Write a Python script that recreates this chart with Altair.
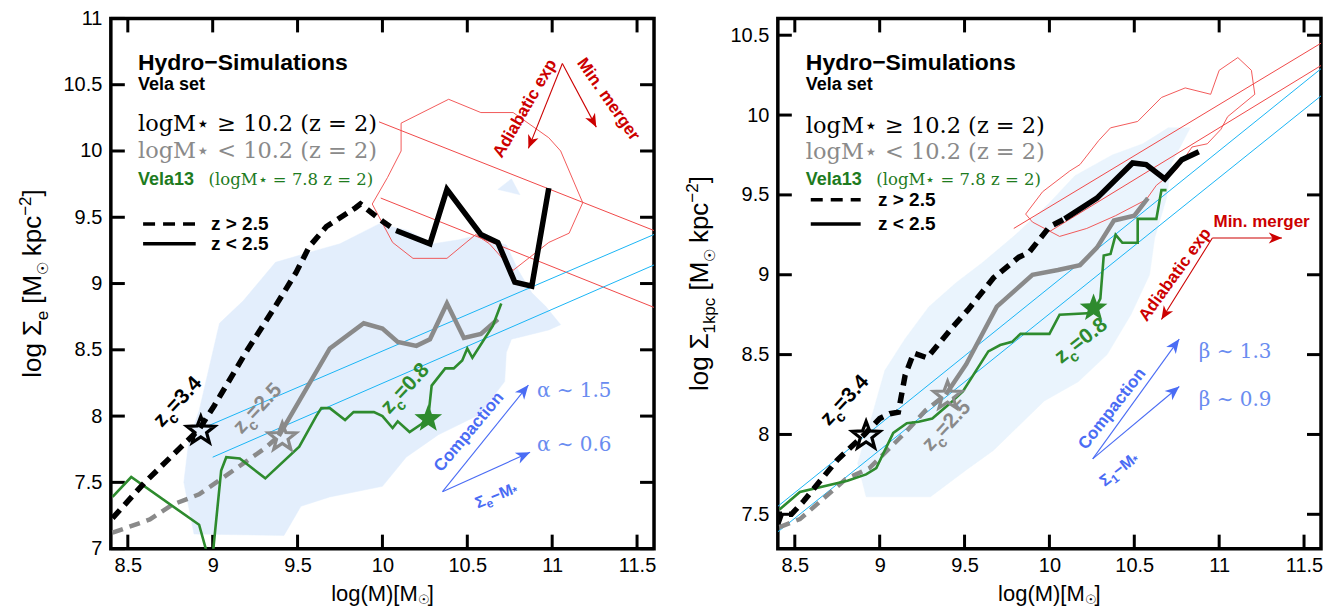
import math
import altair as alt
import pandas as pd

# ------------------------------------------------------------------ data
X_TICKS = [8.5, 9, 9.5, 10, 10.5, 11, 11.5]
Y_TICKS_L = [7, 7.5, 8, 8.5, 9, 9.5, 10, 10.5, 11]
Y_TICKS_R = [7.5, 8, 8.5, 9, 9.5, 10, 10.5]

# ---- left panel: Sigma_e
L_BLACK_DASH_X = [8.41, 8.60, 8.92, 9.01, 9.20, 9.37, 9.49, 9.57, 9.67, 9.84, 9.87, 10.00, 10.08]
L_BLACK_DASH_Y = [7.23, 7.50, 7.90, 8.08, 8.49, 8.83, 9.08, 9.28, 9.43, 9.57, 9.60, 9.47, 9.40]
L_BLACK_SOLID_X = [10.08, 10.28, 10.38, 10.58, 10.68, 10.78, 10.88, 10.98]
L_BLACK_SOLID_Y = [9.40, 9.30, 9.71, 9.37, 9.31, 9.01, 8.98, 9.72]
L_GRAY_DASH_X = [8.41, 8.63, 8.76, 8.92, 9.20, 9.31, 9.39]
L_GRAY_DASH_Y = [7.12, 7.22, 7.33, 7.41, 7.66, 7.76, 7.85]
L_GRAY_SOLID_X = [9.39, 9.69, 9.89, 10.00, 10.09, 10.20, 10.28, 10.38, 10.48, 10.58, 10.68]
L_GRAY_SOLID_Y = [7.85, 8.51, 8.70, 8.66, 8.56, 8.53, 8.58, 8.85, 8.59, 8.62, 8.73]
L_GREEN_X = [8.41, 8.52, 8.92, 8.97, 9.00, 9.05, 9.08, 9.16, 9.31, 9.51, 9.61, 9.64, 9.69, 9.78, 9.83,
             9.95, 10.00, 10.06, 10.09, 10.16, 10.23, 10.27, 10.29, 10.37, 10.42, 10.47, 10.50, 10.53,
             10.65, 10.70]
L_GREEN_Y = [7.39, 7.54, 7.18, 6.95, 6.95, 7.59, 7.69, 7.68, 7.53, 7.77, 8.00, 8.06, 8.06, 7.97, 8.03,
             8.03, 8.00, 7.91, 7.96, 7.88, 7.94, 7.99, 8.23, 8.36, 8.36, 8.42, 8.51, 8.44, 8.68, 8.85]
L_CYAN_X0 = [8.98, 9.00]
L_CYAN_Y0 = [7.93, 7.69]
L_CYAN_X1 = [11.60, 11.60]
L_CYAN_Y1 = [9.37, 9.14]
L_REDLINE_X0 = [9.98, 9.99]
L_REDLINE_Y0 = [10.22, 9.645]
L_REDLINE_X1 = [11.60, 11.60]
L_REDLINE_Y1 = [9.40, 8.82]
L_CONTOUR_X = [10.39, 10.58, 10.77, 10.98, 11.05, 11.18, 11.10, 10.98, 10.77, 10.63, 10.55, 10.38, 10.18,
               10.06, 9.94, 10.03, 10.11, 10.11]
L_CONTOUR_Y = [10.39, 10.29, 10.29, 10.10, 10.00, 9.61, 9.38, 9.31, 9.10, 9.30, 9.37, 9.19, 9.19,
               9.31, 9.60, 9.80, 10.00, 10.21]
L_SHADE_X = [8.89, 8.83, 8.86, 8.92, 9.04, 9.18, 9.37, 9.61, 9.75, 9.98, 10.15, 10.30, 10.45, 10.55,
             10.73, 10.80, 10.88, 10.96, 11.05, 10.98, 10.76, 10.73, 10.72, 10.57, 10.33, 10.14, 10.00,
             9.69, 9.52, 9.42]
L_SHADE_Y = [7.11, 7.50, 7.82, 8.04, 8.70, 8.87, 9.16, 9.25, 9.30, 9.45, 9.40, 9.30, 9.33, 9.36,
             9.29, 9.10, 8.93, 8.83, 8.69, 8.65, 8.58, 8.48, 8.26, 8.01, 7.86, 7.69, 7.47,
             7.39, 7.32, 7.10]
L_BLOB_X = [10.68, 10.76, 10.81]
L_BLOB_Y = [9.71, 9.79, 9.67]
L_STAR_X = [8.93, 9.41, 10.27]
L_STAR_Y = [7.90, 7.85, 7.99]

# ---- right panel: Sigma_1kpc
R_BLACK_DASH_X = [8.40, 8.42, 8.48, 8.55, 8.75, 8.91, 9.00, 9.06, 9.11, 9.15, 9.20, 9.28, 9.42, 9.52,
                  9.67, 9.82, 9.88, 10.00, 10.09]
R_BLACK_DASH_Y = [7.44, 7.50, 7.50, 7.58, 7.84, 8.00, 8.10, 8.13, 8.14, 8.37, 8.51, 8.48, 8.66, 8.78,
                  8.98, 9.11, 9.14, 9.30, 9.35]
R_BLACK_SOLID_X = [10.09, 10.28, 10.49, 10.57, 10.68, 10.78, 10.88]
R_BLACK_SOLID_Y = [9.35, 9.48, 9.70, 9.69, 9.60, 9.72, 9.77]
R_GRAY_DASH_X = [8.41, 8.53, 8.80, 8.94, 9.14, 9.27, 9.39]
R_GRAY_DASH_Y = [7.42, 7.47, 7.72, 7.79, 8.00, 8.15, 8.25]
R_GRAY_SOLID_X = [9.39, 9.51, 9.69, 9.90, 10.05, 10.18, 10.28, 10.38, 10.50, 10.58]
R_GRAY_SOLID_Y = [8.25, 8.44, 8.80, 9.00, 9.03, 9.06, 9.17, 9.34, 9.37, 9.48]
R_GREEN_X = [8.41, 8.53, 8.81, 8.92, 8.98, 9.08, 9.16, 9.23, 9.31, 9.41, 9.49, 9.64, 9.71, 9.78, 9.83,
             10.00, 10.06, 10.25, 10.27, 10.30, 10.32, 10.36, 10.39, 10.43, 10.52, 10.52, 10.63, 10.66,
             10.69]
R_GREEN_Y = [7.53, 7.64, 7.71, 7.75, 7.79, 8.01, 8.07, 8.08, 8.10, 8.19, 8.27, 8.52, 8.56, 8.58, 8.63,
             8.63, 8.75, 8.76, 8.79, 8.85, 9.12, 9.13, 9.25, 9.20, 9.20, 9.35, 9.35, 9.53, 9.53]
R_CYAN_X0 = [8.40, 8.40]
R_CYAN_Y0 = [7.55, 7.39]
R_CYAN_X1 = [11.60, 11.60]
R_CYAN_Y1 = [10.29, 10.12]
R_REDLINE_X0 = [9.79, 10.00]
R_REDLINE_Y0 = [9.29, 9.27]
R_REDLINE_X1 = [11.60, 11.60]
R_REDLINE_Y1 = [10.45, 10.31]
R_CONTOUR_X = [9.86, 9.96, 10.12, 10.18, 10.29, 10.36, 10.52, 10.66, 10.80, 10.95, 11.00, 11.11, 11.19,
               11.21, 11.05, 11.01, 10.93, 10.84, 10.75, 10.63, 10.57, 10.39, 10.22, 10.06, 9.90]
R_CONTOUR_Y = [9.38, 9.52, 9.65, 9.69, 9.84, 9.92, 9.96, 10.11, 10.17, 10.13, 10.28, 10.36, 10.28,
               10.13, 9.99, 9.91, 9.82, 9.80, 9.66, 9.56, 9.47, 9.37, 9.29, 9.24, 9.33]
R_SHADE_X = [8.92, 9.30, 9.50, 9.67, 9.97, 10.17, 10.34, 10.48, 10.59, 10.62, 10.69, 10.72, 10.83, 10.70,
             10.55, 10.37, 10.15, 10.00, 9.80, 9.61, 9.45, 9.29, 9.15, 9.03, 8.95, 8.87]
R_SHADE_Y = [7.61, 7.61, 7.77, 7.90, 8.21, 8.33, 8.50, 8.75, 9.00, 9.23, 9.48, 9.70, 9.92, 9.92,
             9.82, 9.75, 9.62, 9.45, 9.25, 9.08, 8.95, 8.80, 8.60, 8.40, 8.10, 7.82]
R_STAR_X = [8.92, 9.40, 10.26]
R_STAR_Y = [8.00, 8.25, 8.80]

# ------------------------------------------------------------------ style
SANS = "Liberation Sans"
SERIF = "DejaVu Serif"
W, H = 544, 531
XDOM = [8.4, 11.6]
YDOM_L = [7.0, 11.0]
YDOM_R = [7.285, 10.605]
YT = {tuple(YDOM_L): Y_TICKS_L, tuple(YDOM_R): Y_TICKS_R}
BLACK, GRAY, GREEN, GREEN_T = "#000000", "#8a8a8a", "#2e8b2e", "#1e7b1e"
CYAN, RED_L, RED = "#19b5f5", "#f04848", "#cc0000"
BLUE, BLUE_T = "#4a6cf4", "#6a8cf0"
SHADE_L, SHADE_R = "#e3eefc", "#eaf4fd"
DASH = [11, 7]

REG = {' ': 278, '(': 333, ')': 333, '[': 278, ']': 278, '.': 278, '=': 584, '−': 584, '-': 333,
       'l': 222, 'o': 556, 'g': 556, 'M': 833, 'k': 500, 'p': 556, 'c': 500, 'e': 556, 'z': 500,
       'Σ': 600, '☉': 760, '*': 389}
BOLD = {' ': 278, '.': 278, '=': 584, '−': 584, 'z': 500, 'c': 556, 'e': 556, 'M': 833, '*': 389,
        'Σ': 620}


def tw(s, size, bold):
    t = BOLD if bold else REG
    return sum(t.get(ch, 556) for ch in s) / 1000.0 * size


def xe():
    ax = alt.Axis(values=X_TICKS, format="~g", labelFont=SANS, labelFontSize=20, labelColor=BLACK,
                  ticks=False, tickSize=0, domain=False, grid=False, labelPadding=7, title=None,
                  labelFlush=False)
    return alt.X("x:Q", scale=alt.Scale(domain=XDOM, nice=False, zero=False), axis=ax)


def ye(ydom):
    ax = alt.Axis(values=YT[tuple(ydom)], format="~g", labelFont=SANS, labelFontSize=20,
                  labelColor=BLACK, ticks=False, tickSize=0, domain=False, grid=False,
                  labelPadding=9, title=None)
    return alt.Y("y:Q", scale=alt.Scale(domain=ydom, nice=False, zero=False), axis=ax)


def line(xs, ys, ydom, color, width, dash=None):
    df = pd.DataFrame({"x": xs, "y": ys, "i": list(range(len(xs)))})
    kw = dict(color=color, strokeWidth=width, clip=True, strokeCap="butt", strokeJoin="miter")
    if dash:
        kw["strokeDash"] = dash
    return alt.Chart(df).mark_line(**kw).encode(x=xe(), y=ye(ydom), order="i:Q")


def segs(x0, y0, x1, y1, ydom, color, width):
    rows = []
    for k in range(len(x0)):
        rows.append({"x": x0[k], "y": y0[k], "g": k, "i": 0})
        rows.append({"x": x1[k], "y": y1[k], "g": k, "i": 1})
    return alt.Chart(pd.DataFrame(rows)).mark_line(color=color, strokeWidth=width, clip=True).encode(
        x=xe(), y=ye(ydom), detail="g:N", order="i:Q")


def poly(xs, ys, ydom, stroke, width, fill=None):
    xs2, ys2 = list(xs) + [xs[0]], list(ys) + [ys[0]]
    df = pd.DataFrame({"x": xs2, "y": ys2, "i": list(range(len(xs2)))})
    kw = dict(stroke=stroke, strokeWidth=width, clip=True)
    if fill:
        kw["fill"] = fill
    return alt.Chart(df).mark_line(**kw).encode(x=xe(), y=ye(ydom), order="i:Q")


def rich(px, py, pieces, ydom, color, angle=0, bold=False, center=True, font=SANS,
         baseline="alphabetic", pixel=False):
    total = sum(tw(s, sz, bold) for s, sz, _ in pieces)
    cur = -total / 2.0 if center else 0.0
    df = pd.DataFrame({"x": [px], "y": [py]})
    if pixel:
        enc = dict(x=alt.value(px), y=alt.value(py))
    else:
        enc = dict(x=xe(), y=ye(ydom))
    out = []
    for s, sz, dy in pieces:
        lead = len(s) - len(s.lstrip(' '))
        txt = s.strip(' ')
        out.append(alt.Chart(df).mark_text(
            text=txt, font=font, fontSize=sz, fontWeight="bold" if bold else "normal", color=color,
            align="left", baseline=baseline, angle=angle, dx=cur + tw(' ' * lead, sz, bold), dy=dy
        ).encode(**enc))
        cur += tw(s, sz, bold)
    return out


def label(x, y, s, ydom, color, size, bold=False, font=SANS, angle=0, align="left",
          baseline="alphabetic"):
    df = pd.DataFrame({"x": [x], "y": [y]})
    return alt.Chart(df).mark_text(text=s, font=font, fontSize=size,
                                   fontWeight="bold" if bold else "normal", color=color,
                                   align=align, baseline=baseline, angle=angle).encode(
        x=xe(), y=ye(ydom))


HEAD = "M0,0L0.42,1L0,0.72L-0.42,1Z"
STAR = "M" + "L".join(
    "%.3f,%.3f" % ((1.0 if k % 2 == 0 else 0.42) * math.cos(math.radians(-90 + 36 * k)),
                   (1.0 if k % 2 == 0 else 0.42) * math.sin(math.radians(-90 + 36 * k)) + 0.1)
    for k in range(10)) + "Z"


def arrows(ax, ay, tx, ty, ydom, color, width, size):
    sx = W / (XDOM[1] - XDOM[0])
    sy = H / (ydom[1] - ydom[0])
    rows, heads = [], []
    for k in range(len(tx)):
        rows.append({"x": ax, "y": ay, "g": k, "i": 0})
        rows.append({"x": tx[k], "y": ty[k], "g": k, "i": 1})
        ang = math.degrees(math.atan2((tx[k] - ax) * sx, (ty[k] - ay) * sy)) % 360
        heads.append({"x": tx[k], "y": ty[k], "a": ang})
    shaft = alt.Chart(pd.DataFrame(rows)).mark_line(color=color, strokeWidth=width).encode(
        x=xe(), y=ye(ydom), detail="g:N", order="i:Q")
    head = alt.Chart(pd.DataFrame(heads)).mark_point(
        shape=HEAD, filled=True, size=size, color=color, opacity=1, strokeWidth=0).encode(
        x=xe(), y=ye(ydom), angle=alt.Angle("a:Q", scale=None))
    return [shaft, head]


def stars(xs, ys, ydom):
    out = []
    cols = [BLACK, GRAY, GREEN]
    for k in range(3):
        df = pd.DataFrame({"x": [xs[k]], "y": [ys[k]]})
        if k < 2:
            m = alt.Chart(df).mark_point(shape=STAR, size=850, filled=False, color=cols[k],
                                         strokeWidth=3.2, opacity=1)
        else:
            m = alt.Chart(df).mark_point(shape=STAR, size=850, filled=True, color=cols[k], opacity=1)
        out.append(m.encode(x=xe(), y=ye(ydom)))
    return out


def ticks(yt, ydom):
    dx = pd.DataFrame({"x": X_TICKS})
    dy = pd.DataFrame({"y": yt})
    r = dict(color=BLACK, strokeWidth=3)
    return [
        alt.Chart(dx).mark_rule(**r).encode(x=xe(), y=alt.value(H), y2=alt.value(H - 14)),
        alt.Chart(dx).mark_rule(**r).encode(x=xe(), y=alt.value(0), y2=alt.value(14)),
        alt.Chart(dy).mark_rule(**r).encode(y=ye(ydom), x=alt.value(0), x2=alt.value(14)),
        alt.Chart(dy).mark_rule(**r).encode(y=ye(ydom), x=alt.value(W), x2=alt.value(W - 14)),
    ]


def zc(x, y, num, ydom, color, angle):
    return rich(x, y, [("z", 21, 0), ("c", 15, 7), ("=" + num, 21, 0)], ydom, color,
                angle=angle, bold=True, center=False)


def ytitle(sub, ydom):
    return rich(-70, H / 2, [("log Σ", 26, 0), (sub, 17, 7), (" [M", 26, 0), ("☉", 15, 7),
                             (" kpc", 26, 0), ("−2", 17, -10), ("]", 26, 0)], ydom, BLACK,
                angle=270, pixel=True)


def xtitle(ydom):
    return rich(W / 2, H + 52, [("log(M)[M", 22, 0), ("☉", 13, 3), ("]", 22, 0)], ydom, BLACK,
                pixel=True)


# ------------------------------------------------------------------ left panel
yl = YDOM_L
L = []
L += ticks(Y_TICKS_L, yl)
L.append(poly(L_SHADE_X, L_SHADE_Y, yl, SHADE_L, 0.5, fill=SHADE_L))
L.append(poly(L_BLOB_X, L_BLOB_Y, yl, SHADE_L, 0.5, fill=SHADE_L))
L.append(poly(L_CONTOUR_X, L_CONTOUR_Y, yl, RED_L, 0.9))
L.append(segs(L_REDLINE_X0, L_REDLINE_Y0, L_REDLINE_X1, L_REDLINE_Y1, yl, RED_L, 1))
L.append(segs(L_CYAN_X0, L_CYAN_Y0, L_CYAN_X1, L_CYAN_Y1, yl, CYAN, 1))
L.append(line(L_GRAY_DASH_X, L_GRAY_DASH_Y, yl, GRAY, 4.5, DASH))
L.append(line(L_GRAY_SOLID_X, L_GRAY_SOLID_Y, yl, GRAY, 4.5))
L.append(line(L_GREEN_X, L_GREEN_Y, yl, GREEN, 2.6))
L.append(line(L_BLACK_DASH_X, L_BLACK_DASH_Y, yl, BLACK, 5.5, DASH))
L.append(line(L_BLACK_SOLID_X, L_BLACK_SOLID_Y, yl, BLACK, 5.5))
L += stars(L_STAR_X, L_STAR_Y, yl)
L.append(label(8.56, 10.61, "Hydro−Simulations", yl, BLACK, 23, bold=True))
L.append(label(8.56, 10.46, "Vela set", yl, BLACK, 18, bold=True))
L.append(label(8.56, 10.15, "logM⋆ ≥ 10.2 (z = 2)", yl, BLACK, 22.5, font=SERIF))
L.append(label(8.56, 9.95, "logM⋆ < 10.2 (z = 2)", yl, GRAY, 22.5, font=SERIF))
L.append(label(8.56, 9.746, "Vela13", yl, GREEN_T, 18, bold=True))
L.append(label(8.976, 9.746, "(logM⋆ = 7.8  z = 2)", yl, GREEN_T, 16.5, font=SERIF))
L.append(line([8.59, 8.90], [9.45, 9.45], yl, BLACK, 3.5, [12, 8]))
L.append(line([8.59, 8.90], [9.30, 9.30], yl, BLACK, 3.5))
L.append(label(8.99, 9.45, "z > 2.5", yl, BLACK, 19, bold=True, baseline="middle"))
L.append(label(8.99, 9.30, "z < 2.5", yl, BLACK, 19, bold=True, baseline="middle"))
L += zc(8.70, 7.91, "3.4", yl, BLACK, 313)
L += zc(9.17, 7.86, "2.5", yl, GRAY, 313)
L += zc(10.04, 8.01, "0.8", yl, GREEN, 313)
L += arrows(11.06, 10.66, [10.86, 11.26], [10.02, 10.18], yl, RED, 1.1, 700)
L.append(label(10.84, 10.32, "Adiabatic exp", yl, RED, 17, bold=True, angle=300, align="center",
               baseline="middle"))
L.append(label(11.33, 10.39, "Min. merger", yl, RED, 17, bold=True, angle=55, align="center",
               baseline="middle"))
L += arrows(10.354, 7.43, [10.86, 10.87], [8.234, 7.727], yl, BLUE, 1.1, 800)
L.append(label(10.51, 7.88, "Compaction", yl, BLUE, 17, bold=True, angle=310, align="center",
               baseline="middle"))
L += rich(10.67, 7.40, [("Σ", 16, 0), ("e", 12, 5), ("−M", 16, 0), ("*", 12, 3)], yl, BLUE,
          angle=338, bold=True, baseline="middle")
L.append(label(10.91, 8.19, "α ∼ 1.5", yl, BLUE_T, 20, font=SERIF, baseline="middle"))
L.append(label(10.91, 7.78, "α ∼ 0.6", yl, BLUE_T, 20, font=SERIF, baseline="middle"))
L += ytitle("e", yl)
L += xtitle(yl)
left = alt.layer(*L).properties(width=W, height=H)

# ------------------------------------------------------------------ right panel
yr = YDOM_R
R = []
R += ticks(Y_TICKS_R, yr)
R.append(poly(R_SHADE_X, R_SHADE_Y, yr, SHADE_R, 0.5, fill=SHADE_R))
R.append(poly(R_CONTOUR_X, R_CONTOUR_Y, yr, RED_L, 0.9))
R.append(segs(R_REDLINE_X0, R_REDLINE_Y0, R_REDLINE_X1, R_REDLINE_Y1, yr, RED_L, 1))
R.append(segs(R_CYAN_X0, R_CYAN_Y0, R_CYAN_X1, R_CYAN_Y1, yr, CYAN, 1))
R.append(line(R_GRAY_DASH_X, R_GRAY_DASH_Y, yr, GRAY, 4.5, DASH))
R.append(line(R_GRAY_SOLID_X, R_GRAY_SOLID_Y, yr, GRAY, 4.5))
R.append(line(R_GREEN_X, R_GREEN_Y, yr, GREEN, 2.6))
R.append(line(R_BLACK_DASH_X, R_BLACK_DASH_Y, yr, BLACK, 5.5, DASH))
R.append(line(R_BLACK_SOLID_X, R_BLACK_SOLID_Y, yr, BLACK, 5.5))
R += stars(R_STAR_X, R_STAR_Y, yr)
R.append(label(8.565, 10.285, "Hydro−Simulations", yr, BLACK, 23, bold=True))
R.append(label(8.565, 10.156, "Vela set", yr, BLACK, 18, bold=True))
R.append(label(8.565, 9.89, "logM⋆ ≥ 10.2 (z = 2)", yr, BLACK, 22.5, font=SERIF))
R.append(label(8.565, 9.724, "logM⋆ < 10.2 (z = 2)", yr, GRAY, 22.5, font=SERIF))
R.append(label(8.565, 9.564, "Vela13", yr, GREEN_T, 18, bold=True))
R.append(label(8.98, 9.564, "(logM⋆ = 7.8  z = 2)", yr, GREEN_T, 16.5, font=SERIF))
R.append(line([8.594, 8.888], [9.47, 9.47], yr, BLACK, 3.5, [12, 8]))
R.append(line([8.594, 8.888], [9.318, 9.318], yr, BLACK, 3.5))
R.append(label(8.99, 9.47, "z > 2.5", yr, BLACK, 19, bold=True, baseline="middle"))
R.append(label(8.99, 9.318, "z < 2.5", yr, BLACK, 19, bold=True, baseline="middle"))
R += zc(8.70, 8.05, "3.4", yr, BLACK, 313)
R += zc(9.30, 7.89, "2.5", yr, GRAY, 313)
R += zc(10.07, 8.44, "0.8", yr, GREEN, 322)
R += arrows(10.96, 9.23, [11.37, 10.66], [9.23, 8.72], yr, RED, 1.1, 700)
R.append(label(10.74, 9.00, "Adiabatic exp", yr, RED, 17, bold=True, angle=306, align="center",
               baseline="middle"))
R.append(label(11.25, 9.33, "Min. merger", yr, RED, 17, bold=True, align="center",
               baseline="middle"))
R += arrows(10.255, 7.847, [10.765, 10.765], [8.597, 8.30], yr, BLUE, 1.1, 800)
R.append(label(10.37, 8.16, "Compaction", yr, BLUE, 17, bold=True, angle=308, align="center",
               baseline="middle"))
R += rich(10.41, 7.78, [("Σ", 16, 0), ("1", 12, 5), ("−M", 16, 0), ("*", 12, 3)], yr, BLUE,
          angle=322, bold=True, baseline="middle")
R.append(label(10.88, 8.515, "β ∼ 1.3", yr, BLUE_T, 20, font=SERIF, baseline="middle"))
R.append(label(10.88, 8.217, "β ∼ 0.9", yr, BLUE_T, 20, font=SERIF, baseline="middle"))
R += ytitle("1kpc", yr)
R += xtitle(yr)
right = alt.layer(*R).properties(width=W, height=H)

chart = alt.hconcat(left, right, spacing=24).configure_view(
    stroke=BLACK, strokeWidth=3.5).properties(
    padding={"left": 7, "top": -2, "right": 0, "bottom": 0}, background="white")

chart.save("out.html", embed_options={"renderer": "svg", "actions": False})
